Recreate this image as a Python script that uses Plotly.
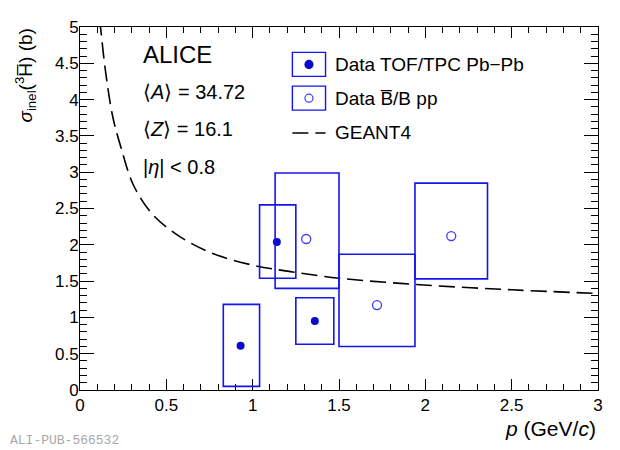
import plotly.graph_objects as go

# Data TOF/TPC Pb-Pb: points and systematic boxes
tof_p = [0.93, 1.14, 1.36]
tof_sigma = [0.61, 2.04, 0.95]
tof_p_lo = [0.83, 1.04, 1.25]
tof_p_hi = [1.04, 1.25, 1.47]
tof_sig_lo = [0.05, 1.54, 0.63]
tof_sig_hi = [1.18, 2.55, 1.27]

# Data Bbar/B pp
pp_p = [1.31, 1.72, 2.15]
pp_sigma = [2.08, 1.17, 2.12]
pp_p_lo = [1.13, 1.50, 1.94]
pp_p_hi = [1.50, 1.94, 2.36]
pp_sig_lo = [1.40, 0.60, 1.53]
pp_sig_hi = [2.99, 1.87, 2.85]

# GEANT4 curve
geant_p = [0.113, 0.12, 0.145, 0.19, 0.24, 0.31, 0.42, 0.58, 0.77, 1.0, 1.22, 1.5, 1.97, 2.5, 3.0]
geant_sigma = [5.1, 4.97, 4.44, 3.76, 3.32, 2.82, 2.42, 2.11, 1.88, 1.72, 1.63, 1.54, 1.45, 1.38, 1.33]

info_lines = ["⟨<i>A</i>⟩ = 34.72", "⟨<i>Z</i>⟩ = 16.1", "|<i>η</i>| < 0.8"]
legend_labels = ["Data TOF/TPC Pb−Pb", "Data B̅/B pp", "GEANT4"]

FONT = "Liberation Sans"
BOX_COLOR = "#1414f0"
FILL_COLOR = "#0a0ac8"
OPEN_COLOR = "#3c3cff"

fig = go.Figure()

fig.add_trace(go.Scatter(
    x=geant_p, y=geant_sigma, mode="lines", line_shape="spline",
    line=dict(color="black", width=1.6, dash="16px,7px"),
    hoverinfo="skip",
))

shapes = []
for lo, hi, ylo, yhi in zip(pp_p_lo, pp_p_hi, pp_sig_lo, pp_sig_hi):
    shapes.append(dict(type="rect", xref="x", yref="y", x0=lo, x1=hi, y0=ylo, y1=yhi,
                       line=dict(color=BOX_COLOR, width=1.6)))
for lo, hi, ylo, yhi in zip(tof_p_lo, tof_p_hi, tof_sig_lo, tof_sig_hi):
    shapes.append(dict(type="rect", xref="x", yref="y", x0=lo, x1=hi, y0=ylo, y1=yhi,
                       line=dict(color=BOX_COLOR, width=1.6)))

fig.add_trace(go.Scatter(
    x=pp_p, y=pp_sigma, mode="markers",
    marker=dict(symbol="circle-open", size=9, color=OPEN_COLOR, line=dict(width=1.3)),
))
fig.add_trace(go.Scatter(
    x=tof_p, y=tof_sigma, mode="markers",
    marker=dict(symbol="circle", size=8, color=FILL_COLOR),
))

# legend, drawn by hand (boxes around markers like ROOT)
leg_x0, leg_x1, leg_xc = 0.410, 0.474, 0.442
leg_rows = [0.897, 0.804, 0.708]
for i, yc in enumerate(leg_rows[:2]):
    shapes.append(dict(type="rect", xref="paper", yref="paper", x0=leg_x0, x1=leg_x1,
                       y0=yc - 0.033, y1=yc + 0.033, line=dict(color=BOX_COLOR, width=1.4)))
    shapes.append(dict(type="circle", xref="paper", yref="paper", xsizemode="pixel",
                       ysizemode="pixel", xanchor=leg_xc, yanchor=yc,
                       x0=-4, x1=4, y0=-4, y1=4,
                       fillcolor=FILL_COLOR if i == 0 else "rgba(0,0,0,0)",
                       line=dict(color=FILL_COLOR if i == 0 else OPEN_COLOR, width=1.2)))
shapes.append(dict(type="line", xref="paper", yref="paper", x0=leg_x0, x1=leg_x1,
                   y0=leg_rows[2], y1=leg_rows[2],
                   line=dict(color="black", width=1.6, dash="16px,7px")))

annotations = []
for lab, yc in zip(legend_labels, leg_rows):
    annotations.append(dict(text=lab, xref="paper", yref="paper", x=0.488, y=yc,
                            xanchor="left", yanchor="middle", showarrow=False,
                            font=dict(family=FONT, size=19, color="black")))

annotations.append(dict(text="ALICE", xref="paper", yref="paper", x=0.117, y=0.925,
                        xanchor="left", yanchor="middle", showarrow=False,
                        font=dict(family=FONT, size=24, color="black")))
for lab, yc in zip(info_lines, [0.82, 0.718, 0.615]):
    annotations.append(dict(text=lab, xref="paper", yref="paper", x=0.117, y=yc,
                            xanchor="left", yanchor="middle", showarrow=False,
                            font=dict(family=FONT, size=20, color="black")))

annotations.append(dict(text="<i>σ</i><sub>inel</sub>(<sup>3</sup>H̅) (b)",
                        xref="paper", yref="paper", x=-0.107, y=1.0, textangle=-90,
                        xanchor="center", yanchor="top", showarrow=False,
                        font=dict(family=FONT, size=19, color="black")))
annotations.append(dict(text="<i>p</i> (GeV/<i>c</i>)", xref="paper", yref="paper",
                        x=1.0, y=-0.105, xanchor="right", yanchor="middle", showarrow=False,
                        font=dict(family=FONT, size=21, color="black")))
annotations.append(dict(text="ALI-PUB-566532", xref="paper", yref="paper",
                        x=-0.139, y=-0.14, xanchor="left", yanchor="middle", showarrow=False,
                        font=dict(family="Liberation Mono", size=13, color="#a8a8a8")))

axis_common = dict(
    showline=True, linecolor="black", linewidth=1, mirror="ticks",
    ticks="inside", tickcolor="black", tickwidth=1, showgrid=False, zeroline=False,
    tickfont=dict(family=FONT, size=17, color="black"),
)

fig.update_xaxes(range=[0, 3], dtick=0.5, ticklen=11,
                 minor=dict(dtick=0.1, ticks="inside", ticklen=6, tickcolor="black"),
                 **axis_common)
fig.update_yaxes(range=[0, 5], dtick=0.5, ticklen=14, ticklabelstandoff=-3,
                 minor=dict(dtick=0.1, ticks="inside", ticklen=7, tickcolor="black"),
                 **axis_common)

# the page puts the plot 8px in from the top-left corner
fig.update_layout(
    width=612, height=442,
    margin=dict(l=72, r=22, t=10, b=60),
    paper_bgcolor="white", plot_bgcolor="white",
    showlegend=False,
    shapes=shapes, annotations=annotations,
)

fig.write_html("out.html")
